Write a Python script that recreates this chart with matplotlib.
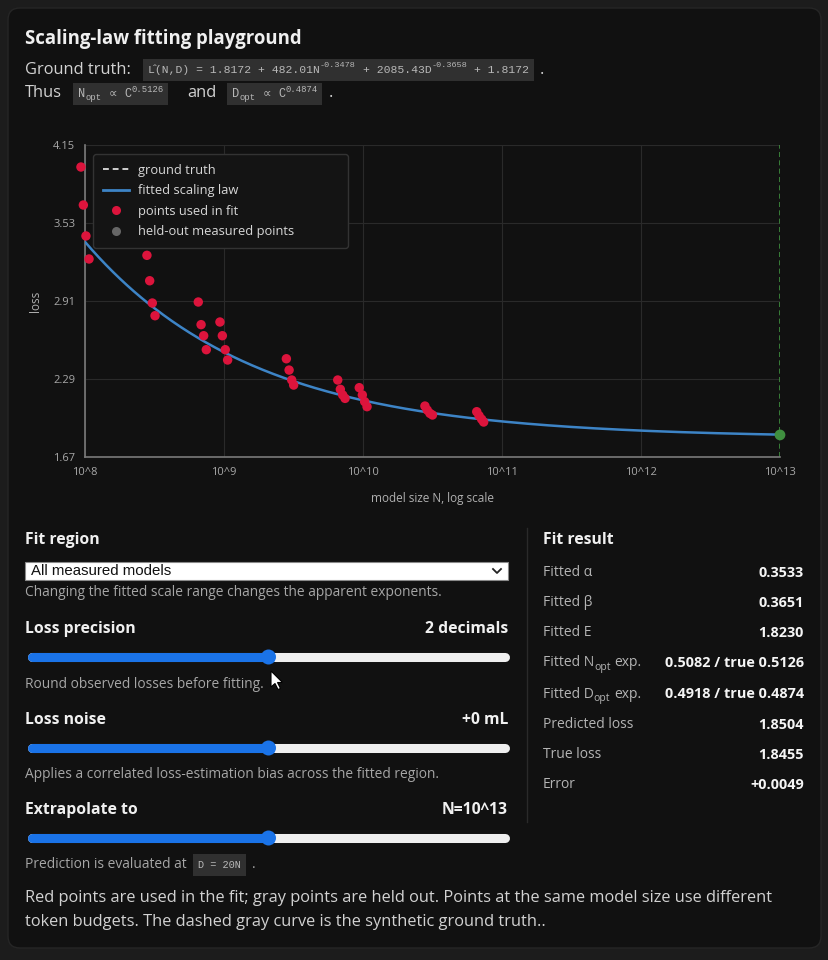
import numpy as np
import matplotlib
matplotlib.use("Agg")
import matplotlib.pyplot as plt
from matplotlib.lines import Line2D
from matplotlib.patches import FancyBboxPatch, Rectangle, Circle, Polygon
from matplotlib.ticker import NullLocator

# ---------------- data ----------------
fit_N = [9.35e7, 9.73e7, 1.016e8, 1.069e8,
         2.79e8, 2.92e8, 3.05e8, 3.19e8,
         6.53e8, 6.84e8, 7.14e8, 7.46e8,
         9.35e8, 9.73e8, 1.021e9, 1.062e9,
         2.81e9, 2.94e9, 3.07e9, 3.17e9,
         6.58e9, 6.87e9, 7.14e9, 7.43e9,
         9.40e9, 9.89e9, 1.028e10, 1.069e10,
         2.79e10, 2.90e10, 3.03e10, 3.16e10,
         6.58e10, 6.84e10, 7.14e10, 7.38e10]
fit_loss = [3.975, 3.673, 3.427, 3.244,
            3.273, 3.071, 2.894, 2.793,
            2.902, 2.722, 2.634, 2.523,
            2.743, 2.634, 2.523, 2.441,
            2.451, 2.361, 2.282, 2.242,
            2.282, 2.208, 2.163, 2.136,
            2.221, 2.163, 2.110, 2.070,
            2.075, 2.043, 2.017, 2.004,
            2.030, 1.998, 1.970, 1.948]
heldout_N = []
heldout_loss = []

x_ticks = [1e8, 1e9, 1e10, 1e11, 1e12, 1e13]
x_tick_labels = ["10^8", "10^9", "10^10", "10^11", "10^12", "10^13"]
y_ticks = [1.67, 2.29, 2.91, 3.53, 4.15]

fit_E, fit_alpha, fit_beta = 1.8230, 0.3533, 0.3651
fit_A, fit_B = 482.0, 2085.4          # estimated coefficients
tokens_per_param = 20
extrap_N = 1e13
true_loss = 1.8455

legend_labels = ["ground truth", "fitted scaling law", "points used in fit", "held-out measured points"]

result_values = ["0.3533", "0.3651", "1.8230", "0.5082 / true 0.5126",
                 "0.4918 / true 0.4874", "1.8504", "1.8455", "+0.0049"]

slider_pos = [0.5, 0.5, 0.5]

# ---------------- style ----------------
SANS = "Open Sans"
MONO = ["Liberation Mono", "DejaVu Sans"]
BG_OUT = "#1c1c1c"
BG_CARD = "#111111"
RED = "#dc143c"
BLUE = "#3d84c6"

W, H = 829, 960
fig = plt.figure(figsize=(W / 100, H / 100), dpi=100)
fig.patch.set_facecolor(BG_OUT)
ui = fig.add_axes([0, 0, 1, 1])
ui.set_xlim(0, W)
ui.set_ylim(H, 0)
ui.axis("off")
R = fig.canvas.get_renderer()

ui.add_patch(FancyBboxPatch((8, 8), 813, 940, boxstyle="round,pad=0,rounding_size=12",
                            fc=BG_CARD, ec="#262626", lw=1))


def text_w(s, size, weight="normal", family=SANS):
    t = ui.text(0, 0, s, fontsize=size, weight=weight, family=family)
    w = t.get_window_extent(renderer=R).width
    t.remove()
    return w


def fit_size(s, width, weight="normal", family=SANS):
    return 10.0 * width / text_w(s, 10, weight, family)


def put(x, y, s, size, color, weight="normal", ha="left", family=SANS):
    return ui.text(x, y, s, fontsize=size, color=color, weight=weight, ha=ha,
                   va="center", family=family)


def runs(x, y, parts, size, color, family=SANS, weight="normal", draw=True):
    cx = x
    sp = text_w("a a", size, weight, family) - text_w("aa", size, weight, family)
    for s, kind in parts:
        if kind == "sp":
            cx += sp
            continue
        fs, dy = size, 0.0
        if kind == "sup":
            fs, dy = size * 0.75, -size * 1.389 * 0.42
        elif kind == "sub":
            fs, dy = size * 0.75, size * 1.389 * 0.30
        t = ui.text(cx, y + dy, s, fontsize=fs, color=color, family=family,
                    weight=weight, va="center", ha="left")
        w = t.get_window_extent(renderer=R).width
        if not draw:
            t.remove()
        cx += w
    return cx - x


def code_box(x, y, parts, size):
    w = runs(x + 5, y, parts, size, "#b8b8b8", family=MONO, draw=False)
    ui.add_patch(Rectangle((x, y - 11), w + 10, 22, fc="#303030", ec="none", zorder=1))
    runs(x + 5, y, parts, size, "#b8b8b8", family=MONO)
    return x + w + 10


# sizes
S_TITLE = fit_size("Scaling-law fitting playground", 277, "bold")
S_BODY = fit_size("Red points are used in the fit; gray points are held out. Points at the same model size use different", 750)
S_HEAD = fit_size("Extrapolate to", 113, "bold")
S_DESC = fit_size("Applies a correlated loss-estimation bias across the fitted region.", 412)
S_LAB = fit_size("Predicted loss", 90)
S_VAL = fit_size("0.5082 / true 0.5126", 138, "bold")
code1 = [("L\u0302(N,D) = 1.8172 + 482.01N", "n"), ("-0.3478", "sup"), ("", "sp"),
         ("+ 2085.43D", "n"), ("-0.3658", "sup"), ("", "sp"), ("+ 1.8172", "n")]
S_CODE = 10.0 * 379 / runs(0, -100, code1, 10, "w", family=MONO, draw=False)

C_TXT = "#d2d2d2"
C_DESC = "#a6a6a6"
C_HEAD = "#f0f0f0"

# header
put(25, 39, "Scaling-law fitting playground", S_TITLE, C_HEAD, "bold")
put(25, 70, "Ground truth:", S_BODY, C_TXT)
e = code_box(143, 70, code1, S_CODE)
put(e + 6, 70, ".", S_BODY, C_TXT)
put(25, 93, "Thus", S_BODY, C_TXT)
e = code_box(73, 94, [("N", "n"), ("opt", "sub"), ("", "sp"), ("\u221d", "n"), ("", "sp"),
                      ("C", "n"), ("0.5126", "sup")], S_CODE * 1.05)
put(187, 93, "and", S_BODY, C_TXT)
e = code_box(227, 94, [("D", "n"), ("opt", "sub"), ("", "sp"), ("\u221d", "n"), ("", "sp"),
                       ("C", "n"), ("0.4874", "sup")], S_CODE * 1.05)
put(e + 6, 93, ".", S_BODY, C_TXT)

# ---------------- chart ----------------
ax = fig.add_axes([85 / W, 1 - 457 / H, 695 / W, 312 / H])
ax.set_facecolor("none")
ax.set_xscale("log")
ax.set_xlim(x_ticks[0], x_ticks[-1])
ax.set_ylim(y_ticks[0], y_ticks[-1])
ax.set_xticks(x_ticks)
ax.set_xticklabels(x_tick_labels)
ax.xaxis.set_minor_locator(NullLocator())
ax.set_yticks(y_ticks)
ax.set_yticklabels([f"{v:.2f}" for v in y_ticks])
ax.tick_params(length=0, colors="#a8a8a8", labelsize=8)
ax.tick_params(axis="y", pad=7)
ax.tick_params(axis="x", pad=7)
for lab in ax.get_xticklabels() + ax.get_yticklabels():
    lab.set_family(SANS)
ax.grid(True, color="#2a2a2a", lw=0.8)
for s in ["top", "right"]:
    ax.spines[s].set_visible(False)
for s in ["left", "bottom"]:
    ax.spines[s].set_color("#7a7a7a")
    ax.spines[s].set_linewidth(1.2)

Ns = np.logspace(np.log10(x_ticks[0]), np.log10(extrap_N), 400)
Lfit = fit_E + fit_A * Ns ** (-fit_alpha) + fit_B * (tokens_per_param * Ns) ** (-fit_beta)
ax.plot(Ns, Lfit, color=BLUE, lw=1.8, zorder=3)
ax.scatter(fit_N, fit_loss, s=46, color=RED, edgecolors="none", zorder=4, clip_on=False)
if heldout_N:
    ax.scatter(heldout_N, heldout_loss, s=46, color="#666666", edgecolors="none", zorder=4)
ax.axvline(extrap_N, color="#3f8f3f", ls=(0, (3, 2)), lw=1.2, zorder=2)
ax.scatter([extrap_N], [true_loss], s=60, color="#3f8f3f", edgecolors="none", zorder=5, clip_on=False)

ax.set_xlabel("model size N, log scale", color="#b0b0b0", fontsize=8.5, family=SANS)
ax.set_ylabel("loss", color="#b0b0b0", fontsize=8.5, family=SANS)
ax.xaxis.set_label_coords(0.5, -(492 - 457) / 312)
ax.yaxis.set_label_coords((42 - 85) / 695, 0.5)

handles = [Line2D([], [], color="#d0d0d0", ls=(0, (3, 2)), lw=1.4),
           Line2D([], [], color=BLUE, lw=2),
           Line2D([], [], marker="o", ls="none", color=RED, ms=6.5, mec="none"),
           Line2D([], [], marker="o", ls="none", color="#666666", ms=6.5, mec="none")]
x0 = (93 - 85) / 695
x1 = (348 - 85) / 695
y1 = 1 - (154 - 145) / 312
y0 = 1 - (244 - 145) / 312
leg = ax.legend(handles, legend_labels, loc="upper left", bbox_to_anchor=(x0, y0, x1 - x0, y1 - y0),
                mode="expand", borderaxespad=0, prop={"family": SANS, "size": 9.3},
                labelcolor="#d8d8d8", facecolor="#141414", edgecolor="#333333", framealpha=1,
                labelspacing=0.58, handlelength=2.0, handletextpad=0.7, borderpad=0.75, fancybox=True)
leg.set_zorder(6)

# ---------------- controls ----------------
def slider(y, frac):
    xa, xb = 32, 505
    xt = xa + frac * (xb - xa)
    ui.plot([xa, xb], [y, y], color="#efefef", lw=6.5, solid_capstyle="round", zorder=2)
    ui.plot([xa, xt], [y, y], color="#1a73e8", lw=6.5, solid_capstyle="round", zorder=3)
    ui.add_patch(Circle((xt, y), 7.5, fc="#1a73e8", ec="none", zorder=4))


put(25, 540, "Fit region", S_HEAD, C_HEAD, "bold")
ui.add_patch(Rectangle((25, 562), 483, 18, fc="white", ec="#8a8a8a", lw=0.8, zorder=2))
put(31, 571, "All measured models", fit_size("All measured models", 141, family="Liberation Sans"),
    "#111111", family="Liberation Sans")
ui.plot([493, 497, 501], [569, 573, 569], color="#222222", lw=1.3, zorder=3)
put(25, 593, "Changing the fitted scale range changes the apparent exponents.", S_DESC, C_DESC)

put(25, 629, "Loss precision", S_HEAD, C_HEAD, "bold")
put(508, 629, "2 decimals", S_HEAD, C_HEAD, "bold", ha="right")
slider(657, slider_pos[0])
put(25, 684, "Round observed losses before fitting.", S_DESC, C_DESC)

put(25, 720, "Loss noise", S_HEAD, C_HEAD, "bold")
put(508, 720, "+0 mL", S_HEAD, C_HEAD, "bold", ha="right")
slider(748, slider_pos[1])
put(25, 775, "Applies a correlated loss-estimation bias across the fitted region.", S_DESC, C_DESC)

put(25, 810, "Extrapolate to", S_HEAD, C_HEAD, "bold")
put(508, 810, "N=10^13", S_HEAD, C_HEAD, "bold", ha="right")
slider(838, slider_pos[2])
put(25, 865, "Prediction is evaluated at", S_DESC, C_DESC)
e = code_box(193, 865, [("D = 20N", "n")], S_CODE * 0.9)
put(e + 6, 865, ".", S_DESC, C_DESC)

# mouse cursor
tip = np.array([271, 671])
cur = np.array([(0, 0), (0, 16), (4, 12.5), (7, 18.5), (9.5, 17.5), (6.5, 11.5), (11.5, 11.5)]) + tip
ui.add_patch(Polygon(cur, closed=True, fc="white", ec="black", lw=0.8, zorder=6))

# divider
ui.plot([527, 527], [528, 822], color="#2a2a2a", lw=1)

# fit result
put(543, 540, "Fit result", S_HEAD, C_HEAD, "bold")
row_y = [573, 603, 633, 663, 694, 725, 755, 785]
C_LAB = "#b4b4b4"
labels_parts = [[("Fitted \u03b1", "n")], [("Fitted \u03b2", "n")], [("Fitted E", "n")],
                [("Fitted N", "n"), ("opt", "sub"), ("", "sp"), ("exp.", "n")],
                [("Fitted D", "n"), ("opt", "sub"), ("", "sp"), ("exp.", "n")],
                [("Predicted loss", "n")], [("True loss", "n")], [("Error", "n")]]
for yy, parts, val in zip(row_y, labels_parts, result_values):
    runs(543, yy, parts, S_LAB, C_LAB)
    put(804, yy, val, S_VAL, "#f5f5f5", "bold", ha="right")

# footer paragraph
put(25, 898, "Red points are used in the fit; gray points are held out. Points at the same model size use different",
    S_BODY, C_TXT)
put(25, 922, "token budgets. The dashed gray curve is the synthetic ground truth..", S_BODY, C_TXT)

fig.savefig("out.png", dpi=100, facecolor=fig.get_facecolor())
